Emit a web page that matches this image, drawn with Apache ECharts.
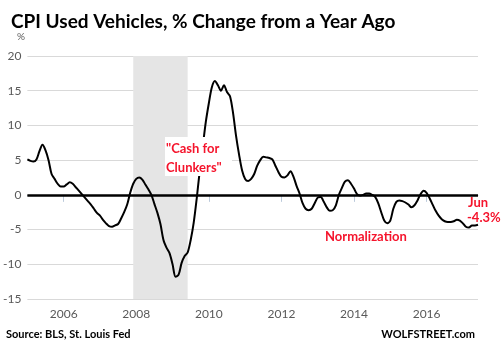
<!DOCTYPE html>
<html><head><meta charset="utf-8">
<script src="https://cdn.jsdelivr.net/npm/echarts@6/dist/echarts.min.js"></script>
<style>html,body{margin:0;padding:0;background:#fff}#c{width:503px;height:356px}</style>
</head><body><div id="c"></div>
<script>
// Monthly data, Jan 2005 .. Jun 2017
var startYear = 2005, startMonth = 1;
var values = [
 5.1, 4.9, 4.8, 5.1, 6.3, 7.2, 6.4, 5.0, 3.0, 2.3, 1.6, 1.2,
 1.2, 1.5, 1.8, 1.6, 1.1, 0.6, 0.1, -0.4, -0.9, -1.4, -2.0, -2.6,
 -3.0, -3.6, -4.1, -4.5, -4.6, -4.4, -4.2, -3.4, -2.5, -1.4, 0.3, 1.6,
 2.3, 2.5, 2.2, 1.5, 0.8, 0.0, -1.3, -2.6, -4.2, -6.5, -7.6, -8.4,
 -10.0, -11.8, -11.5, -9.8, -8.8, -8.3, -6.5, -4.0, -0.5, 3.5, 7.0, 10.5,
 13.2, 15.5, 16.4, 15.8, 15.0, 15.8, 14.8, 14.2, 11.8, 8.5, 5.8, 3.5,
 2.3, 2.0, 2.3, 3.0, 4.2, 5.0, 5.5, 5.4, 5.3, 5.1, 4.2, 3.3,
 2.6, 2.5, 2.8, 3.4, 2.6, 1.3, 0.2, -1.2, -2.0, -2.2, -2.0, -1.2,
 -0.4, -0.3, -1.0, -1.8, -2.3, -2.2, -1.5, 0.0, 1.0, 1.9, 2.1, 1.6,
 0.9, 0.1, -0.1, 0.0, 0.2, 0.2, 0.0, -0.3, -1.2, -2.5, -3.7, -4.1,
 -3.7, -2.0, -1.0, -0.8, -0.9, -1.1, -1.4, -1.8, -1.5, -0.8, 0.1, 0.6,
 0.3, -0.5, -1.4, -2.3, -3.0, -3.5, -3.8, -3.9, -3.9, -3.8, -3.6, -3.7,
 -4.1, -4.6, -4.7, -4.4, -4.4, -4.3
];
var tickYears = ['2006', '2008', '2010', '2012', '2014', '2016'];
var recession = ['2007-12', '2009-06'];
var yTicks = {min: -15, max: 20, interval: 5};

var months = [];
for (var i = 0; i < values.length; i++) {
  var m0 = startMonth - 1 + i;
  var y = startYear + Math.floor(m0 / 12);
  var m = (m0 % 12) + 1;
  months.push(y + '-' + (m < 10 ? '0' + m : m));
}
function isTick(idx) {
  var c = months[idx];
  return c.slice(5) === '01' && tickYears.indexOf(c.slice(0, 4)) >= 0;
}
var red = '#f5142c';
var font = 'Lato, "Open Sans", sans-serif';
var chart = echarts.init(document.getElementById('c'));
chart.setOption({
  animation: false,
  backgroundColor: '#fff',
  title: {
    text: 'CPI Used Vehicles, % Change from a Year Ago',
    left: 6, top: 7,
    textStyle: {fontFamily: font, fontWeight: 'bold', fontSize: 19, color: '#000'}
  },
  grid: {left: 25, right: 25, top: 56, bottom: 57},
  xAxis: {
    type: 'category', data: months, boundaryGap: false,
    axisLine: {show: true, lineStyle: {color: '#bccadb', width: 1}},
    axisTick: {show: true, length: 7, interval: function (idx) { return isTick(idx); }, lineStyle: {color: '#bccadb'}},
    axisLabel: {
      interval: function (idx) { return isTick(idx); },
      formatter: function (v) { return v.slice(0, 4); },
      color: '#595959', fontFamily: font, fontSize: 12, margin: 9
    },
    splitLine: {show: false}
  },
  yAxis: {
    type: 'value', min: yTicks.min, max: yTicks.max, interval: yTicks.interval,
    axisLine: {show: false}, axisTick: {show: false},
    axisLabel: {color: '#595959', fontFamily: font, fontSize: 12, margin: 6},
    splitLine: {lineStyle: {color: '#d9d9d9', width: 1}}
  },
  series: [{
    type: 'line', data: values, smooth: 0.3, showSymbol: false, symbol: 'none',
    lineStyle: {color: '#000', width: 2},
    z: 5,
    markArea: {
      silent: true,
      itemStyle: {color: '#e5e5e5'},
      data: [[{xAxis: recession[0]}, {xAxis: recession[1]}]]
    },
    markLine: {
      silent: true, symbol: 'none',
      lineStyle: {color: '#000', width: 2.5, type: 'solid'},
      label: {show: false},
      data: [{yAxis: 0}]
    }
  }],
  graphic: [
    {type: 'text', left: 17, top: 32, style: {text: '%', fontFamily: font, fontSize: 10, fill: '#595959'}},
    {type: 'rect', left: 165, top: 137, z: 100, zlevel: 1, shape: {width: 67, height: 39}, style: {fill: '#fff'}},
    {type: 'text', left: 166, top: 139, z: 101, zlevel: 1, style: {text: '"Cash for\nClunkers"', fontFamily: font, fontWeight: 'bold', fontSize: 13, lineHeight: 19, fill: red}},
    {type: 'text', left: 325, top: 230, z: 100, zlevel: 1, style: {text: 'Normalization', fontFamily: font, fontWeight: 'bold', fontSize: 13, fill: red}},
    {type: 'text', left: 468, top: 196, z: 100, zlevel: 1, style: {text: 'Jun', fontFamily: font, fontWeight: 'bold', fontSize: 13, fill: red}},
    {type: 'text', left: 467, top: 211, z: 100, zlevel: 1, style: {text: '-4.3%', fontFamily: font, fontWeight: 'bold', fontSize: 13, fill: red}},
    {type: 'text', left: 6, top: 329, style: {text: 'Source: BLS, St. Louis Fed', fontFamily: font, fontWeight: 'bold', fontSize: 11, fill: '#000'}},
    {type: 'text', right: 28, top: 329, style: {text: 'WOLFSTREET.com', fontFamily: font, fontWeight: 'bold', fontSize: 11, fill: '#000'}}
  ]
});
</script></body></html>
